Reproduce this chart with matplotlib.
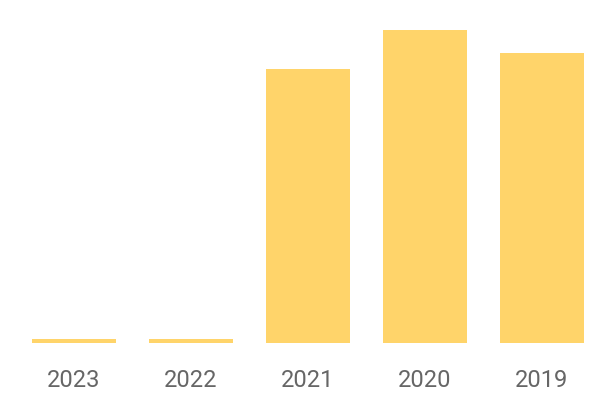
import matplotlib.pyplot as plt

years = ["2023", "2022", "2021", "2020", "2019"]
values = [4, 4, 274, 313, 290]

fig = plt.figure(figsize=(6, 4), dpi=100)
ax = fig.add_axes([15.5 / 600, 57 / 400, 585 / 600, 312.7 / 400])

ax.bar(range(len(years)), values, width=0.72, color="#FFD46A")

ax.set_xlim(-0.5, 4.5)
ax.set_ylim(0, 313)
ax.set_xticks(range(len(years)))
ax.set_xticklabels(years, fontsize=17, color="#666666", family="Roboto")
ax.tick_params(axis="x", length=0, pad=19)
ax.set_yticks([])
for s in ax.spines.values():
    s.set_visible(False)

fig.savefig("out.png", dpi=100)
